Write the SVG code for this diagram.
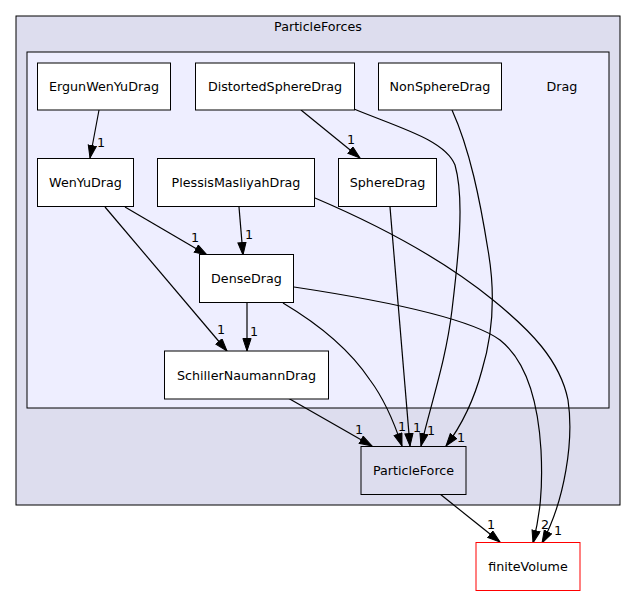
<svg xmlns="http://www.w3.org/2000/svg" width="636" height="596" viewBox="0 0 636 596">
<style>
text{font-family:"DejaVu Sans",sans-serif;font-size:12.7px;fill:#000}
.n text,.lbl text{text-anchor:middle}
.n rect{fill:#fff;stroke:#000;stroke-width:1}
.e path{fill:none;stroke:#000;stroke-width:1.2}
</style>
<defs>
<marker id="a" markerWidth="14" markerHeight="10" refX="13" refY="4.6" orient="auto" markerUnits="userSpaceOnUse"><path d="M0.5,0.5 L13,4.6 L0.5,8.7 z" fill="#000" stroke="#000" stroke-width="1"/></marker>
</defs>
<rect x="0" y="0" width="636" height="596" fill="#fff"/>
<g id="cluster_ParticleForces">
<rect x="16" y="16" width="604" height="489" fill="#ddddee" stroke="#000"/>
<text x="318" y="31" text-anchor="middle">ParticleForces</text>
</g>
<g id="cluster_Drag">
<rect x="27" y="52" width="582" height="356" fill="#eeeeff" stroke="#000"/>
<text x="562" y="91" text-anchor="middle">Drag</text>
</g>
<g class="e" id="edges">
<path marker-end="url(#a)" d="M99,110 L90,158"/>
<path marker-end="url(#a)" d="M301,110 L360,158"/>
<path marker-end="url(#a)" d="M354,109 C400,128 445,140 455,165 C465,200 458,260 452,310 C446,360 432,400 421,446"/>
<path marker-end="url(#a)" d="M452,110 C470,150 480,200 488,250 C495,290 494,330 482,370 C474,400 462,425 446,446"/>
<path marker-end="url(#a)" d="M125,207 L207,255"/>
<path marker-end="url(#a)" d="M105,207 L227,351"/>
<path marker-end="url(#a)" d="M239,207 L243,255"/>
<path marker-end="url(#a)" d="M315,198 C390,230 450,265 493,300 C530,330 560,360 568,400 C574,440 565,500 542,543"/>
<path marker-end="url(#a)" d="M390,207 L410,446"/>
<path marker-end="url(#a)" d="M247,303 L247,351"/>
<path marker-end="url(#a)" d="M283,303 C320,325 350,350 370,380 C385,400 395,425 402,446"/>
<path marker-end="url(#a)" d="M294,287 C380,300 470,318 500,340 C525,360 538,400 541,450 C543,490 540,515 533,543"/>
<path marker-end="url(#a)" d="M288,398 L372,446"/>
<path marker-end="url(#a)" d="M440,494 L500,542"/>
</g>
<g class="lbl" id="edge-labels">
<text x="101" y="147">1</text>
<text x="351" y="144">1</text>
<text x="431" y="435">1</text>
<text x="461" y="442">1</text>
<text x="195" y="242">1</text>
<text x="221" y="334">1</text>
<text x="249" y="239">1</text>
<text x="558" y="535">1</text>
<text x="417" y="432">1</text>
<text x="254" y="336">1</text>
<text x="402" y="431">1</text>
<text x="545" y="529">2</text>
<text x="359" y="434">1</text>
<text x="491" y="529">1</text>
</g>
<g class="n" id="ErgunWenYuDrag"><rect x="37.5" y="63" width="133" height="47"/><text x="104" y="91">ErgunWenYuDrag</text></g>
<g class="n" id="DistortedSphereDrag"><rect x="195.5" y="63" width="159" height="47"/><text x="275" y="91">DistortedSphereDrag</text></g>
<g class="n" id="NonSphereDrag"><rect x="378.5" y="63" width="123" height="47"/><text x="440" y="91">NonSphereDrag</text></g>
<g class="n" id="WenYuDrag"><rect x="37.5" y="158.5" width="96" height="48"/><text x="85.5" y="187">WenYuDrag</text></g>
<g class="n" id="PlessisMasliyahDrag"><rect x="157.5" y="158.5" width="157" height="48"/><text x="236" y="187">PlessisMasliyahDrag</text></g>
<g class="n" id="SphereDrag"><rect x="338.5" y="158.5" width="98" height="48"/><text x="387.5" y="187">SphereDrag</text></g>
<g class="n" id="DenseDrag"><rect x="199.5" y="254.5" width="94" height="48"/><text x="246.5" y="283">DenseDrag</text></g>
<g class="n" id="SchillerNaumannDrag"><rect x="164.5" y="351" width="164" height="48"/><text x="246.5" y="379.5">SchillerNaumannDrag</text></g>
<g class="n" id="ParticleForce"><rect x="361" y="446.5" width="105" height="48" style="fill:#ddddee"/><text x="413.5" y="475">ParticleForce</text></g>
<g class="n" id="finiteVolume"><rect x="476" y="542.5" width="104" height="48" style="stroke:#ff0000"/><text x="528" y="571">finiteVolume</text></g>
</svg>
